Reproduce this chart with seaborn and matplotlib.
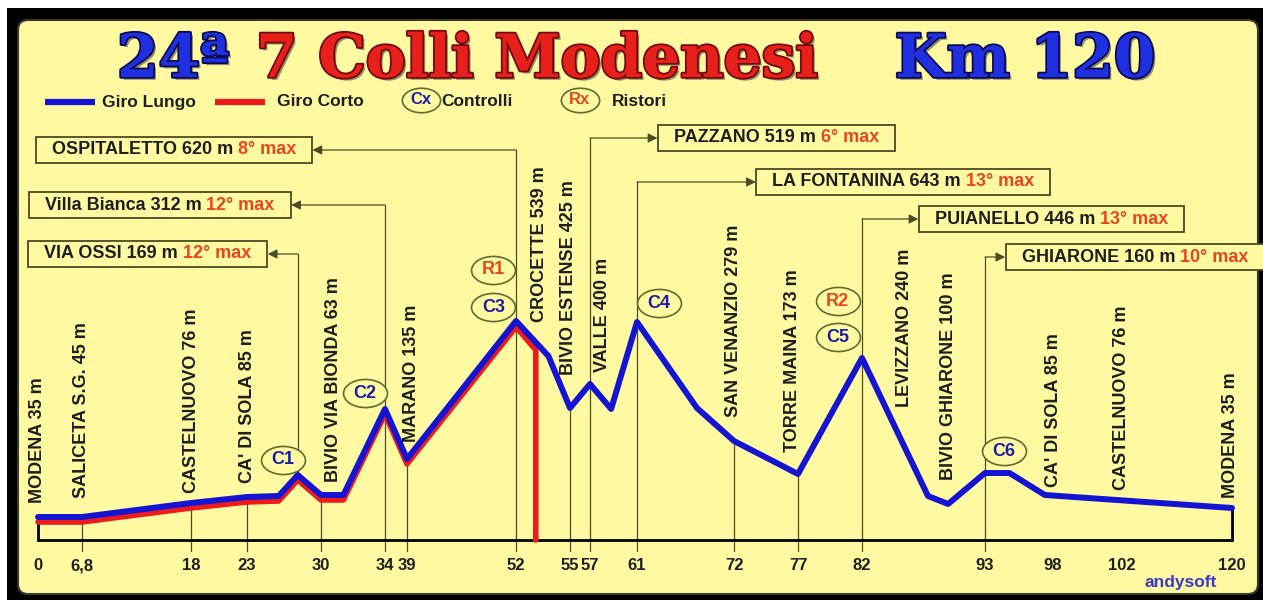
import numpy as np
import matplotlib
matplotlib.use("Agg")
import matplotlib.pyplot as plt
import matplotlib.patheffects as pe
from matplotlib.path import Path
from matplotlib.markers import MarkerStyle
from matplotlib.patches import FancyBboxPatch, Rectangle
from matplotlib.offsetbox import TextArea, HPacker, AnnotationBbox, DrawingArea
import seaborn as sns

sns.set_style("white")
plt.rcParams["font.family"] = ["Liberation Sans", "DejaVu Sans"]

# ---------------------------------------------------------------
# data (schematic, not to scale)
# ---------------------------------------------------------------
tick_km = [0, 6.8, 18, 23, 30, 34, 39, 52, 55, 57, 61, 72, 77, 82, 93, 98, 102, 120]
tick_labels = ["0", "6,8", "18", "23", "30", "34", "39", "52", "55", "57",
               "61", "72", "77", "82", "93", "98", "102", "120"]
# where each km mark sits along the drawn base line
tick_pos = [0, 44, 153, 209, 283, 347, 369, 478, 532, 552, 599, 696, 760,
            824, 947, 1015, 1084, 1194]
no_line_km = [0, 98, 102, 120]

# Giro Lungo (drawn height above base line)
lungo_km = [0, 6.8, 18, 23, 26, 27.8, 30, 31.4, 34, 39, 52, 53.8, 55, 57,
            58.8, 61, 67.8, 72, 77, 82, 87.9, 89.7, 93, 94.8, 97.4, 120]
lungo_h = [23, 23, 37, 43, 44, 65, 45, 45, 131, 81, 219, 184, 132, 156,
           131, 218, 132, 99, 66, 182, 44, 36, 67, 67, 45, 32]

# Giro Corto (leaves after the Crocette)
corto_km = [0, 6.8, 18, 23, 26, 27.8, 30, 31.4, 34, 39, 52, 53.1, 53.1]
corto_h = [18, 18, 32, 38, 39, 60, 40, 40, 126, 76, 213, 190, 0]

station_names = ["MODENA 35 m", "SALICETA S.G. 45 m", "CASTELNUOVO 76 m",
                 "CA' DI SOLA 85 m", "BIVIO VIA BIONDA 63 m", "MARANO 135 m",
                 "CROCETTE 539 m", "BIVIO ESTENSE 425 m", "VALLE 400 m",
                 "SAN VENANZIO 279 m", "TORRE MAINA 173 m", "LEVIZZANO 240 m",
                 "BIVIO GHIARONE 100 m", "CA' DI SOLA 85 m", "CASTELNUOVO 76 m",
                 "MODENA 35 m"]
station_km = [0, 6.8, 18, 23, 30.8, 39.5, 53.3, 54.9, 58.1, 71.9, 76.6,
              85.8, 89.7, 98, 102, 119.8]
station_h = [37, 42, 47, 57, 58, 98, 218, 165, 168, 123, 88, 133, 60, 53, 50, 42]

climb_names = ["OSPITALETTO 620 m", "Villa Bianca 312 m", "VIA OSSI 169 m",
               "PAZZANO 519 m", "LA FONTANINA 643 m", "PUIANELLO 446 m",
               "GHIARONE 160 m"]
climb_grades = ["8° max", "12° max", "12° max", "6° max", "13° max",
                "13° max", "10° max"]
climb_km = [52, 34, 27.8, 57, 61, 82, 93]
# layout of the call-out boxes: leader height and horizontal offset (pt)
climb_h = [390, 335, 286, 402, 358, 321, 283]
climb_dx = [-150, -71, -25, 52, 89, 44, 18]

point_labels = ["C1", "C2", "R1", "C3", "C4", "R2", "C5", "C6"]
point_km = [26.4, 32.75, 49.3, 49.3, 63.5, 80.1, 80.1, 94.4]
point_h = [80, 147, 270, 233, 237, 239, 203, 89]

# ---------------------------------------------------------------
# colours
# ---------------------------------------------------------------
yellow = "#fffaa2"
blue = "#1414d2"
red = "#ec1c1c"
olive = "#4a4c22"
dark = "#1e1e1e"
ring = "#5f6c2e"
grade_red = "#e8461e"
c_blue = "#1c1ca8"

fig = plt.figure(figsize=(12.63, 6.01), dpi=100)
fig.patch.set_facecolor("white")

# background layer (frame, title, legend) in pixel-like layout units
bg = fig.add_axes([0, 0, 1, 1])
bg.set_xlim(0, 1263)
bg.set_ylim(601, 0)
bg.axis("off")
bg.add_patch(Rectangle((7, 8), 1256, 592, fc="black", ec="none"))
bg.add_patch(FancyBboxPatch((18, 20), 1240, 574,
                            boxstyle="round,pad=0,rounding_size=10",
                            fc=yellow, ec="#3a3a2a", lw=1.5))

title_kw = dict(fontsize=43, family="DejaVu Serif", fontweight="bold",
                va="baseline", ha="center")


def title_fx(edge):
    return [pe.withSimplePatchShadow(offset=(2, -2), shadow_rgbFace="#444", alpha=0.6),
            pe.withStroke(linewidth=2.5, foreground=edge)]


bg.text(173, 77, "24ª", color="#2030e0", path_effects=title_fx("#0a0a50"), **title_kw)
bg.text(537, 77, "7 Colli Modenesi", color="#e8201c", path_effects=title_fx("#700808"), **title_kw)
bg.text(1025, 77, "Km 120", color="#2030e0", path_effects=title_fx("#0a0a50"), **title_kw)

# legend row
ellipse = Path.unit_circle()
ellipse = Path(ellipse.vertices * [1.0, 0.64], ellipse.codes)
ell_marker = MarkerStyle(ellipse)

leg_kw = dict(fontsize=12.5, fontweight="bold", color=dark, va="center", ha="left")
bg.plot([45, 95], [102, 102], color=blue, lw=4.5, solid_capstyle="butt")
bg.text(102, 102, "Giro Lungo", **leg_kw)
bg.plot([215, 265], [102, 102], color=red, lw=4.5, solid_capstyle="butt")
bg.text(277, 102, "Giro Corto", **leg_kw)
bg.scatter([421, 580], [100, 100], marker=ell_marker, s=760, fc=yellow,
           ec=ring, lw=1.2, zorder=3)
bg.text(421, 100, "Cx", ha="center", va="center", fontsize=12, fontweight="bold",
        color=c_blue, zorder=4)
bg.text(580, 100, "Rx", ha="center", va="center", fontsize=12, fontweight="bold",
        color=grade_red, zorder=4)
bg.text(441, 102, "Controlli", **leg_kw)
bg.text(612, 102, "Ristori", **leg_kw)
bg.text(1217, 583, "andysoft", ha="right", va="center", color="#3a3ac8",
        fontsize=12.5, fontweight="bold")

# ---------------------------------------------------------------
# profile axes
# ---------------------------------------------------------------
ax = fig.add_axes([38 / 1263, 61 / 601, 1194 / 1263, 520 / 601])
ax.patch.set_alpha(0)
for s in ax.spines.values():
    s.set_visible(False)

# vertical guide lines
for k in tick_km:
    if k in no_line_km or k in climb_km:
        continue
    top = np.interp(k, lungo_km, lungo_h)
    ax.plot([k, k], [top, -11], color=olive, lw=0.9, clip_on=False, zorder=1)
for k, h in zip(climb_km, climb_h):
    bottom = -11 if k in tick_km else np.interp(k, lungo_km, lungo_h)
    ax.plot([k, k], [h, bottom], color=olive, lw=0.9, clip_on=False, zorder=1)

# base box
ax.plot([0, 0, 120, 120], [lungo_h[0], 0, 0, lungo_h[-1]], color="black",
        lw=2, clip_on=False, zorder=2, solid_joinstyle="miter")

sns.lineplot(x=corto_km, y=corto_h, sort=False, estimator=None, color=red,
             lw=4, ax=ax, zorder=3)
sns.lineplot(x=lungo_km, y=lungo_h, sort=False, estimator=None, color=blue,
             lw=4.3, ax=ax, zorder=4)
for ln in ax.lines:
    ln.set_clip_on(False)

sns.scatterplot(x=point_km, y=point_h, marker=ell_marker, s=1000, color=yellow,
                edgecolor=ring, linewidth=1.2, ax=ax, zorder=5, clip_on=False)
for lab, k, h in zip(point_labels, point_km, point_h):
    ax.text(k, h, lab, ha="center", va="center", fontsize=13, fontweight="bold",
            color=grade_red if lab.startswith("R") else c_blue, zorder=6)

for name, k, h in zip(station_names, station_km, station_h):
    ax.text(k, h, name, rotation=90, ha="center", va="bottom", fontsize=13,
            fontweight="bold", color=dark, zorder=6)

for name, grade, k, h, dx in zip(climb_names, climb_grades, climb_km, climb_h, climb_dx):
    pack = HPacker(children=[DrawingArea(5, 1),
                             TextArea(name, textprops=dict(fontsize=13, fontweight="bold", color=dark)),
                             TextArea(grade, textprops=dict(fontsize=13, fontweight="bold", color=grade_red)),
                             DrawingArea(5, 1)],
                   align="center", pad=0, sep=3.5)
    ab = AnnotationBbox(pack, (k, h), xybox=(dx, 0), boxcoords="offset points",
                        box_alignment=(1 if dx < 0 else 0, 0.5), pad=0.3,
                        frameon=True, annotation_clip=False,
                        bboxprops=dict(fc=yellow, ec=olive, lw=1.3),
                        arrowprops=dict(arrowstyle="<|-,head_length=0.5,head_width=0.25",
                                        color=olive, lw=0.9, shrinkA=0, shrinkB=0,
                                        mutation_scale=8),
                        zorder=6)
    ax.add_artist(ab)

# schematic km scale
km_ext = np.r_[-20, tick_km, 140]
pos_ext = np.r_[-129, tick_pos, 1316]
ax.set_xscale("function", functions=(lambda x: np.interp(x, km_ext, pos_ext),
                                     lambda p: np.interp(p, pos_ext, km_ext)))
ax.set_xlim(0, 120)
ax.set_ylim(0, 520)
ax.set_xticks(tick_km)
ax.set_xticklabels(tick_labels, fontsize=12, fontweight="bold", color=dark)
ax.set_yticks([])
ax.set_xlabel("")
ax.set_ylabel("")
ax.tick_params(axis="x", length=0, pad=13)

fig.savefig("out.png", dpi=100)
